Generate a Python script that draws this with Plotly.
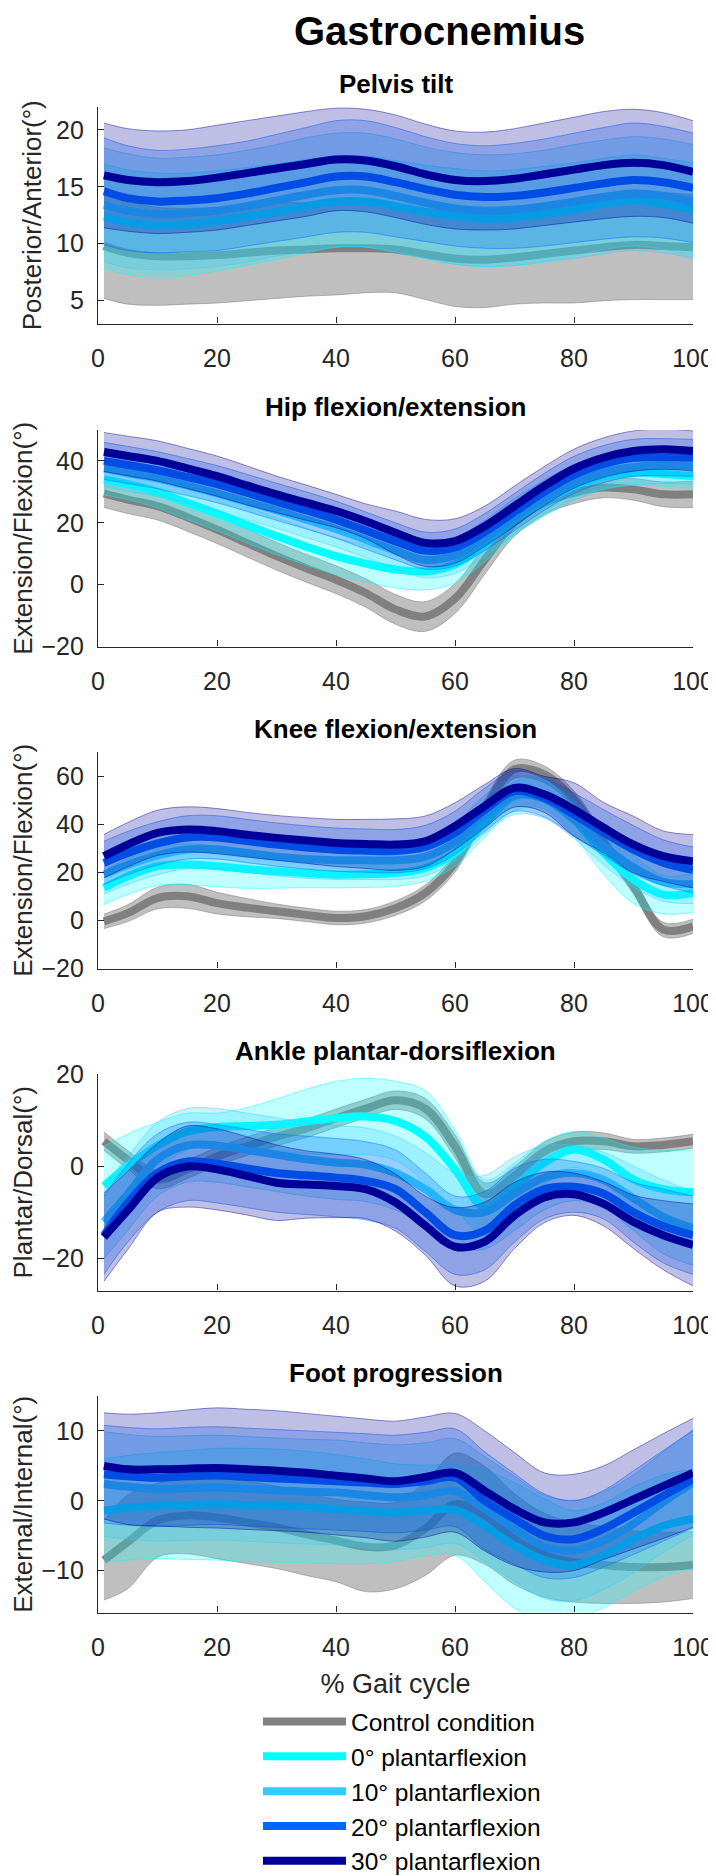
import plotly.graph_objects as go

# ---------------- data ----------------
X = [1, 5, 10, 15, 20, 25, 30, 35, 40, 45, 50, 55, 60, 65, 70, 75, 80, 85, 90, 95, 100]
CONDITIONS = ["Control condition", "0° plantarflexion", "10° plantarflexion",
              "20° plantarflexion", "30° plantarflexion"]
PANEL_TITLES = ["Pelvis tilt", "Hip flexion/extension", "Knee flexion/extension",
                "Ankle plantar-dorsiflexion", "Foot progression"]
Y_LABELS = ["Posterior/Anterior(°)", "Extension/Flexion(°)", "Extension/Flexion(°)",
            "Plantar/Dorsal(°)", "External/Internal(°)"]
Y_RANGES = [[3, 22], [-20, 50], [-20, 70], [-27, 20], [-16, 15]]
Y_TICKS = [[5, 10, 15, 20], [-20, 0, 20, 40], [-20, 0, 20, 40, 60], [-20, 0, 20], [-10, 0, 10]]
X_TICKS = [0, 20, 40, 60, 80, 100]

# Pelvis tilt
PELVIS_CTRL_MEAN = [9.8, 9.2, 8.9, 8.9, 9.0, 9.2, 9.4, 9.5, 9.6, 9.6, 9.5, 9.1, 8.7, 8.6, 8.8, 9.1, 9.4, 9.7, 9.9, 9.8, 9.7]
PELVIS_CTRL_SD = [4.6, 4.5, 4.3, 4.2, 4.2, 4.2, 4.2, 4.1, 4.1, 3.9, 3.8, 4.0, 4.2, 4.2, 4.1, 4.3, 4.6, 4.7, 4.8, 4.7, 4.6]
PELVIS_P0_MEAN = [12.4, 11.9, 11.6, 11.7, 12.0, 12.4, 12.8, 13.3, 13.7, 13.7, 13.3, 12.8, 12.4, 12.2, 12.3, 12.6, 13.0, 13.5, 13.8, 13.5, 13.0]
PELVIS_P0_SD = [4.6, 4.6, 4.6, 4.5, 4.4, 4.3, 4.2, 4.1, 4.0, 4.0, 4.0, 4.1, 4.2, 4.2, 4.2, 4.2, 4.1, 4.0, 4.0, 4.0, 4.1]
PELVIS_P10_MEAN = [13.4, 12.9, 12.6, 12.7, 12.9, 13.3, 13.8, 14.3, 14.7, 14.7, 14.2, 13.6, 13.1, 12.9, 13.0, 13.3, 13.7, 14.1, 14.4, 14.2, 13.7]
PELVIS_P10_SD = [5.0, 5.0, 4.9, 4.9, 4.9, 4.9, 4.9, 5.0, 5.0, 5.0, 5.0, 4.9, 4.9, 4.9, 4.9, 4.9, 5.0, 5.0, 5.0, 5.0, 5.0]
PELVIS_P20_MEAN = [14.6, 14.0, 13.7, 13.8, 14.0, 14.4, 14.9, 15.4, 15.9, 15.9, 15.4, 14.8, 14.3, 14.1, 14.2, 14.5, 14.9, 15.3, 15.6, 15.4, 14.9]
PELVIS_P20_SD = [4.7, 4.6, 4.5, 4.5, 4.6, 4.6, 4.7, 4.8, 4.9, 4.9, 4.8, 4.6, 4.5, 4.5, 4.6, 4.7, 4.8, 4.9, 5.0, 4.9, 4.8]
PELVIS_P30_MEAN = [16.0, 15.6, 15.4, 15.5, 15.8, 16.2, 16.6, 17.0, 17.4, 17.3, 16.8, 16.1, 15.6, 15.5, 15.7, 16.1, 16.5, 16.9, 17.1, 16.9, 16.3]
PELVIS_P30_SD = [4.6, 4.5, 4.5, 4.5, 4.6, 4.6, 4.6, 4.6, 4.5, 4.5, 4.5, 4.4, 4.3, 4.3, 4.4, 4.5, 4.6, 4.7, 4.7, 4.6, 4.5]

# Hip flexion/extension
HIP_CTRL_MEAN = [29.5, 27.5, 25.4, 21.8, 17.8, 13.5, 9.2, 5.3, 1.6, -2.7, -8.0, -10.3, -4.5, 8.0, 20.0, 26.5, 29.7, 31.4, 30.8, 29.2, 29.2]
HIP_CTRL_SD = [4.5, 4.5, 4.5, 4.5, 4.5, 4.5, 4.5, 4.5, 4.5, 4.6, 4.8, 4.8, 4.8, 4.6, 4.3, 3.8, 3.5, 3.3, 3.5, 4.0, 4.3]
HIP_P0_MEAN = [34.0, 32.5, 30.0, 26.5, 23.0, 19.3, 15.7, 12.3, 9.2, 6.8, 4.9, 4.3, 6.5, 13.0, 21.0, 27.0, 31.9, 35.0, 36.2, 35.8, 35.1]
HIP_P0_SD = [5.0, 5.0, 5.2, 5.4, 5.6, 5.8, 6.0, 6.0, 6.0, 6.0, 6.0, 6.0, 6.0, 5.6, 5.0, 4.5, 4.0, 4.0, 4.0, 4.0, 4.0]
HIP_P10_MEAN = [37.5, 36.0, 34.3, 32.0, 29.5, 26.8, 24.0, 21.0, 18.0, 14.5, 11.0, 8.0, 9.5, 15.0, 22.0, 28.0, 33.0, 36.5, 38.0, 38.5, 38.3]
HIP_P10_SD = [5.8, 5.8, 5.8, 5.8, 5.8, 5.8, 5.8, 5.8, 5.8, 5.8, 5.8, 5.8, 5.8, 5.8, 5.8, 5.8, 5.8, 5.8, 5.8, 5.8, 5.8]
HIP_P20_MEAN = [40.0, 38.7, 37.0, 34.8, 32.5, 29.7, 26.8, 24.0, 21.0, 17.5, 14.0, 11.0, 12.0, 17.0, 23.5, 30.0, 35.5, 39.0, 41.0, 41.2, 41.0]
HIP_P20_SD = [6.0, 6.0, 6.0, 6.0, 6.0, 6.0, 6.0, 6.0, 6.0, 6.0, 6.0, 6.0, 6.0, 6.0, 6.0, 6.0, 6.0, 6.0, 6.0, 6.0, 6.0]
HIP_P30_MEAN = [42.9, 41.6, 40.0, 37.6, 35.1, 32.1, 29.2, 26.5, 23.8, 20.5, 16.8, 13.5, 14.1, 18.9, 25.4, 31.9, 37.5, 41.1, 43.2, 43.8, 43.2]
HIP_P30_SD = [6.3, 6.4, 6.5, 6.5, 6.5, 6.3, 5.9, 5.7, 5.4, 5.6, 7.0, 7.6, 7.2, 6.5, 6.5, 6.3, 6.3, 6.4, 6.5, 6.5, 6.5]

# Knee flexion/extension
KNEE_CTRL_MEAN = [-0.4, 3.0, 9.3, 10.0, 7.2, 5.3, 3.8, 2.3, 1.0, 1.7, 5.1, 11.4, 23.9, 46.1, 62.8, 60.7, 50.3, 32.2, 14.2, -3.8, -2.5]
KNEE_CTRL_SD = [3.0, 3.5, 4.5, 5.0, 4.5, 3.8, 3.0, 2.8, 2.8, 2.8, 3.0, 3.3, 3.8, 4.0, 3.8, 3.5, 3.5, 3.5, 3.3, 3.0, 3.0]
KNEE_P0_MEAN = [13.5, 18.3, 22.5, 23.2, 22.5, 21.3, 20.4, 19.6, 19.0, 19.2, 19.7, 21.8, 28.0, 40.6, 51.7, 52.4, 42.0, 28.0, 17.0, 10.7, 11.4]
KNEE_P0_SD = [7.0, 7.5, 8.0, 8.5, 8.5, 8.0, 7.0, 6.0, 5.5, 5.5, 5.5, 5.5, 5.5, 6.0, 6.0, 6.0, 7.0, 9.0, 10.0, 8.0, 8.0]
KNEE_P10_MEAN = [19.0, 23.0, 27.0, 29.5, 29.5, 28.0, 26.5, 25.5, 25.0, 25.0, 25.0, 26.5, 32.5, 44.0, 52.0, 50.5, 42.0, 31.0, 22.0, 16.0, 15.0]
KNEE_P10_SD = [8.0, 8.0, 8.0, 8.0, 8.0, 8.0, 8.0, 8.0, 8.0, 8.0, 8.0, 8.0, 8.0, 8.0, 8.0, 8.0, 8.0, 8.0, 8.0, 8.0, 8.0]
KNEE_P20_MEAN = [23.9, 28.0, 32.0, 34.5, 34.5, 33.0, 31.5, 30.3, 29.4, 29.0, 28.8, 30.5, 36.4, 46.0, 53.8, 51.0, 44.0, 36.5, 29.4, 24.0, 21.0]
KNEE_P20_SD = [9.0, 9.0, 9.0, 9.0, 9.0, 9.0, 9.0, 9.0, 9.0, 9.0, 9.0, 9.0, 9.0, 9.0, 8.5, 8.0, 9.0, 9.5, 10.0, 9.5, 9.5]
KNEE_P30_MEAN = [26.7, 31.5, 36.4, 37.8, 37.1, 35.6, 34.3, 33.2, 32.2, 31.8, 31.5, 32.9, 39.2, 47.5, 55.1, 52.4, 46.1, 38.5, 31.5, 26.7, 24.6]
KNEE_P30_SD = [9.0, 9.2, 9.4, 9.4, 9.4, 9.3, 9.3, 9.5, 9.8, 10.2, 10.7, 10.5, 9.7, 9.0, 8.0, 7.5, 11.1, 10.5, 11.8, 10.5, 11.1]

# Ankle plantar-dorsiflexion
ANKLE_CTRL_MEAN = [5.4, 1.4, -2.9, -0.7, 2.1, 4.3, 6.4, 8.2, 10.4, 12.5, 14.3, 12.5, 4.3, -6.1, -2.1, 3.2, 5.4, 5.4, 4.3, 4.6, 5.4]
ANKLE_CTRL_SD = [2.0, 2.0, 2.0, 2.0, 2.0, 2.0, 2.0, 2.0, 2.0, 2.0, 2.0, 2.2, 2.5, 2.5, 2.0, 2.0, 2.0, 1.8, 1.5, 1.5, 1.5]
ANKLE_P0_MEAN = [-4.3, 0.0, 4.5, 7.5, 8.5, 8.7, 9.0, 9.7, 10.4, 10.8, 9.8, 6.4, -0.7, -9.0, -4.6, 0.7, 3.6, 1.4, -2.9, -5.0, -5.7]
ANKLE_P0_SD = [8.6, 7.0, 5.0, 4.0, 3.0, 4.0, 5.6, 7.0, 8.0, 8.3, 8.6, 10.0, 8.6, 6.0, 5.3, 4.7, 3.9, 4.7, 7.0, 8.5, 9.2]
ANKLE_P10_MEAN = [-12.1, -6.0, 1.5, 4.5, 4.5, 3.5, 2.5, 1.5, 0.8, 0.3, -1.5, -5.0, -9.5, -10.0, -6.0, -2.5, -1.5, -3.0, -7.0, -11.0, -13.5]
ANKLE_P10_SD = [8.0, 8.0, 8.0, 8.0, 8.0, 8.0, 8.0, 8.0, 8.0, 8.0, 8.0, 8.0, 8.0, 8.0, 8.0, 7.0, 6.0, 6.0, 7.0, 8.0, 8.0]
ANKLE_P20_MEAN = [-15.0, -8.0, -1.5, 1.0, 0.5, -0.5, -1.5, -2.0, -2.5, -3.2, -5.0, -10.0, -15.0, -14.0, -8.5, -5.0, -4.5, -6.0, -10.0, -13.0, -15.0]
ANKLE_P20_SD = [8.5, 8.5, 8.5, 8.5, 8.5, 8.5, 8.5, 8.5, 8.5, 8.5, 8.5, 8.5, 8.5, 8.5, 8.0, 6.5, 5.5, 5.5, 6.5, 8.0, 8.5]
ANKLE_P30_MEAN = [-15.4, -9.6, -2.5, -0.1, -0.7, -2.1, -3.6, -4.0, -4.3, -5.0, -7.9, -12.9, -17.5, -16.4, -10.7, -6.8, -6.1, -8.2, -12.1, -15.0, -17.1]
ANKLE_P30_SD = [9.6, 8.5, 7.5, 8.8, 8.8, 8.5, 8.2, 7.3, 6.9, 6.4, 6.2, 6.4, 8.5, 8.6, 7.2, 5.5, 4.6, 4.8, 5.8, 7.5, 8.9]

# Foot progression
FOOT_CTRL_MEAN = [-8.5, -5.9, -2.8, -2.1, -2.4, -3.1, -3.8, -4.8, -5.7, -6.6, -6.4, -4.0, -0.5, -2.1, -5.5, -7.8, -8.8, -9.2, -9.5, -9.5, -9.2]
FOOT_CTRL_SD = [5.7, 6.7, 5.3, 5.5, 5.9, 5.9, 5.9, 5.9, 5.9, 6.4, 6.2, 6.7, 7.3, 7.0, 6.5, 6.0, 5.7, 5.5, 5.2, 5.0, 4.8]
FOOT_P0_MEAN = [-1.4, -1.0, -0.7, -0.6, -0.5, -0.6, -0.7, -0.9, -1.2, -1.5, -1.7, -1.4, -1.3, -3.6, -6.4, -8.5, -9.2, -7.8, -5.5, -3.6, -2.6]
FOOT_P0_SD = [7.4, 7.5, 7.6, 7.8, 8.0, 8.1, 8.1, 8.0, 7.8, 7.5, 7.0, 6.5, 6.5, 8.0, 9.0, 8.8, 7.8, 7.5, 7.5, 7.3, 7.1]
FOOT_P10_MEAN = [2.4, 2.0, 1.7, 1.8, 1.9, 1.7, 1.5, 1.3, 1.2, 0.8, 0.5, 0.8, 1.4, -1.2, -4.0, -6.6, -7.1, -5.7, -3.3, -0.2, 2.6]
FOOT_P10_SD = [7.5, 7.5, 7.5, 7.5, 7.5, 7.5, 7.5, 7.5, 7.5, 7.5, 7.5, 7.5, 7.5, 7.5, 7.5, 7.4, 7.2, 7.0, 7.0, 7.2, 7.5]
FOOT_P20_MEAN = [3.8, 3.5, 3.3, 3.5, 3.6, 3.4, 3.2, 3.0, 2.8, 2.6, 2.4, 2.8, 3.3, 0.0, -2.6, -5.0, -5.5, -4.0, -1.7, 0.7, 3.1]
FOOT_P20_SD = [7.0, 7.0, 7.0, 7.0, 7.0, 7.0, 7.0, 7.0, 7.0, 7.0, 7.0, 7.0, 7.0, 7.0, 6.5, 6.0, 5.5, 5.5, 6.0, 6.5, 7.0]
FOOT_P30_MEAN = [5.0, 4.5, 4.5, 4.6, 4.7, 4.5, 4.3, 4.0, 3.6, 3.2, 2.8, 3.4, 4.0, 1.4, -1.2, -3.1, -3.1, -1.7, 0.2, 2.1, 4.0]
FOOT_P30_SD = [7.6, 7.9, 8.1, 8.4, 8.6, 8.6, 8.6, 8.5, 8.5, 8.5, 8.6, 8.6, 8.5, 8.6, 8.1, 7.1, 6.9, 6.7, 7.1, 7.5, 7.8]

PANEL_DATA = [
    [(PELVIS_CTRL_MEAN, PELVIS_CTRL_SD), (PELVIS_P0_MEAN, PELVIS_P0_SD), (PELVIS_P10_MEAN, PELVIS_P10_SD),
     (PELVIS_P20_MEAN, PELVIS_P20_SD), (PELVIS_P30_MEAN, PELVIS_P30_SD)],
    [(HIP_CTRL_MEAN, HIP_CTRL_SD), (HIP_P0_MEAN, HIP_P0_SD), (HIP_P10_MEAN, HIP_P10_SD),
     (HIP_P20_MEAN, HIP_P20_SD), (HIP_P30_MEAN, HIP_P30_SD)],
    [(KNEE_CTRL_MEAN, KNEE_CTRL_SD), (KNEE_P0_MEAN, KNEE_P0_SD), (KNEE_P10_MEAN, KNEE_P10_SD),
     (KNEE_P20_MEAN, KNEE_P20_SD), (KNEE_P30_MEAN, KNEE_P30_SD)],
    [(ANKLE_CTRL_MEAN, ANKLE_CTRL_SD), (ANKLE_P0_MEAN, ANKLE_P0_SD), (ANKLE_P10_MEAN, ANKLE_P10_SD),
     (ANKLE_P20_MEAN, ANKLE_P20_SD), (ANKLE_P30_MEAN, ANKLE_P30_SD)],
    [(FOOT_CTRL_MEAN, FOOT_CTRL_SD), (FOOT_P0_MEAN, FOOT_P0_SD), (FOOT_P10_MEAN, FOOT_P10_SD),
     (FOOT_P20_MEAN, FOOT_P20_SD), (FOOT_P30_MEAN, FOOT_P30_SD)],
]

# ---------------- style ----------------
LINE_RGB = [(128, 128, 128), (0, 255, 255), (51, 204, 255), (0, 102, 255), (0, 0, 153)]
FILL_ALPHA = [0.5, 0.25, 0.25, 0.25, 0.25]
EDGE_ALPHA = [0.55, 0.45, 0.45, 0.45, 0.45]
FONT = "Liberation Sans, Arial, Helvetica, sans-serif"
AXC = "#262626"

W, H = 716, 1876
OFF_X, OFF_Y = 8, 8           # page offset: target screen px -> figure px
AX_L, AX_R = 98, 693          # axes left/right (screen px)
PANEL_TOPS = [107, 430, 752, 1074, 1396]
PANEL_H = 216.5
ML = AX_L - OFF_X
MR = W - (AX_R - OFF_X)
PW = W - ML - MR


def px_x(sx):
    return (sx - OFF_X - ML) / PW


def px_y(sy):
    return 1 - (sy - OFF_Y) / H


def rgba(c, a):
    return "rgba(%d,%d,%d,%.3f)" % (c[0], c[1], c[2], a)


fig = go.Figure()
layout = dict()
for p in range(5):
    xa = "x" if p == 0 else "x%d" % (p + 1)
    ya = "y" if p == 0 else "y%d" % (p + 1)
    for c in range(5):
        mean, sd = PANEL_DATA[p][c]
        upper = [m + s for m, s in zip(mean, sd)]
        lower = [m - s for m, s in zip(mean, sd)]
        col = LINE_RGB[c]
        fig.add_trace(go.Scatter(x=X, y=lower, xaxis=xa, yaxis=ya, mode="lines",
                                 line=dict(color=rgba(col, EDGE_ALPHA[c]), width=1, shape="spline"),
                                 showlegend=False, hoverinfo="skip"))
        fig.add_trace(go.Scatter(x=X, y=upper, xaxis=xa, yaxis=ya, mode="lines", fill="tonexty",
                                 fillcolor=rgba(col, FILL_ALPHA[c]),
                                 line=dict(color=rgba(col, EDGE_ALPHA[c]), width=1, shape="spline"),
                                 showlegend=False, hoverinfo="skip"))
        fig.add_trace(go.Scatter(x=X, y=mean, xaxis=xa, yaxis=ya, mode="lines",
                                 line=dict(color="rgb(%d,%d,%d)" % col, width=8, shape="spline"),
                                 name=CONDITIONS[c], showlegend=(p == 0)))

    top = PANEL_TOPS[p]
    xkey = "xaxis" if p == 0 else "xaxis%d" % (p + 1)
    ykey = "yaxis" if p == 0 else "yaxis%d" % (p + 1)
    layout[xkey] = dict(domain=[0, 1], anchor=ya, range=[0, 100], tickvals=X_TICKS, automargin=False,
                        ticks="inside", ticklen=6, tickwidth=1, tickcolor=AXC,
                        showline=True, linecolor=AXC, linewidth=1.2, showgrid=False, zeroline=False,
                        tickfont=dict(family=FONT, size=25, color=AXC), ticklabelstandoff=12,
                        ticklabeloverflow="allow")
    layout[ykey] = dict(domain=[px_y(top + PANEL_H), px_y(top)], anchor=xa, range=Y_RANGES[p],
                        tickvals=Y_TICKS[p], automargin=False,
                        ticks="inside", ticklen=6, tickwidth=1, tickcolor=AXC,
                        showline=True, linecolor=AXC, linewidth=1.2, showgrid=False, zeroline=False,
                        tickfont=dict(family=FONT, size=25, color=AXC), ticklabelstandoff=8,
                        ticklabeloverflow="allow",
                        title=dict(text=Y_LABELS[p], font=dict(family=FONT, size=26, color=AXC), standoff=6))

layout["xaxis5"]["title"] = dict(text="% Gait cycle", font=dict(family=FONT, size=27, color=AXC), standoff=14)

annotations = [dict(text="Gastrocnemius", x=px_x(439), y=1, xref="paper", yref="paper",
                    xanchor="center", yanchor="top", showarrow=False, borderpad=0,
                    font=dict(family=FONT, size=40, color="black", weight="bold"))]
for p in range(5):
    annotations.append(dict(text=PANEL_TITLES[p], x=px_x((AX_L + AX_R) / 2), y=px_y(PANEL_TOPS[p] - 23),
                            xref="paper", yref="paper", xanchor="center", yanchor="middle", showarrow=False,
                            font=dict(family=FONT, size=26, color="black", weight="bold")))

fig.update_layout(
    width=W, height=H,
    margin=dict(l=ML, r=MR, t=0, b=0),
    paper_bgcolor="white", plot_bgcolor="white",
    annotations=annotations,
    showlegend=True,
    legend=dict(x=px_x(258), y=0, xanchor="left", yanchor="bottom", traceorder="normal",
                font=dict(family=FONT, size=24.5, color="black"), itemwidth=83,
                bgcolor="rgba(0,0,0,0)", tracegroupgap=0),
    **layout,
)

fig.write_html("out.html")
